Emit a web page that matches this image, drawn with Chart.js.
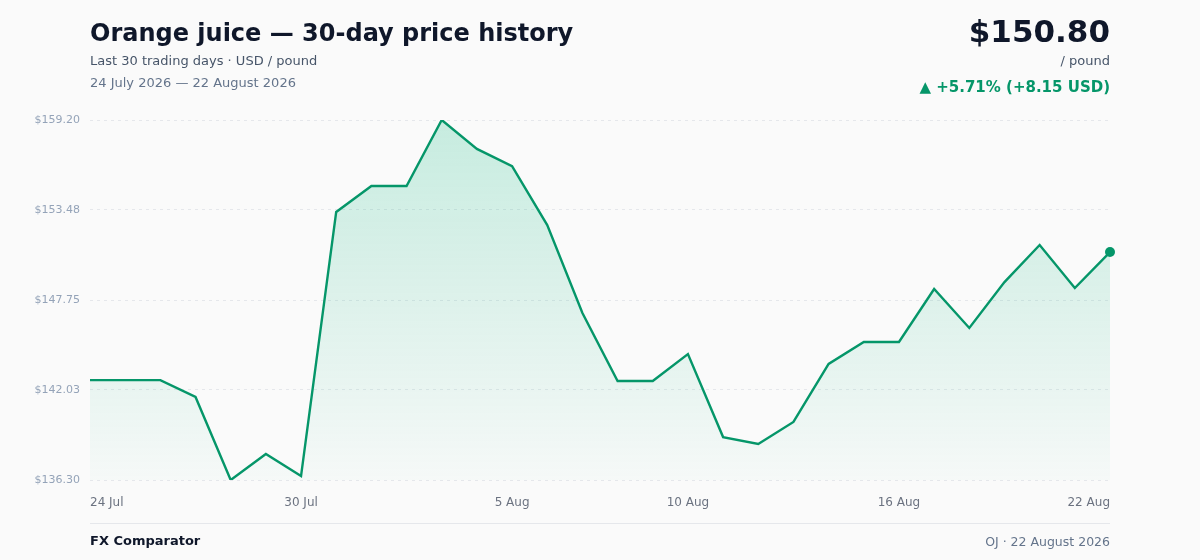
<!DOCTYPE html>
<html>
<head>
<meta charset="utf-8">
<script src="https://cdn.jsdelivr.net/npm/chart.js@4.4.1/dist/chart.umd.min.js"></script>
<style>
  html, body { margin: 0; padding: 0; background: #fafafa; }
  body { width: 1200px; height: 560px; position: relative; overflow: hidden;
         font-family: "DejaVu Sans", sans-serif; }
  .abs { position: absolute; white-space: nowrap; }
  #title { left: 90px; top: 19px; font-size: 24px; font-weight: bold; color: #0f172a; }
  #sub { left: 90px; top: 53px; font-size: 13px; color: #475569; }
  #range { left: 90px; top: 75px; font-size: 13px; color: #64748b; }
  #price { right: 90px; top: 13px; font-size: 31px; font-weight: bold; color: #0f172a; }
  #unit { right: 90px; top: 53px; font-size: 13px; color: #475569; }
  #chg { right: 90px; top: 78px; font-size: 15px; font-weight: bold; color: #059669; }
  #rule { left: 90px; width: 1020px; top: 523px; height: 1px; background: #e5e7eb; }
  #brand { left: 90px; top: 533px; font-size: 13px; font-weight: bold; color: #0f172a; }
  #src { right: 90px; top: 534px; font-size: 12.5px; color: #64748b; }
  #wrap { position: absolute; left: 0; top: 0; width: 1200px; height: 560px; }
</style>
</head>
<body>
<div id="wrap"><canvas id="chart"></canvas></div>
<div class="abs" id="title">Orange juice — 30-day price history</div>
<div class="abs" id="sub">Last 30 trading days · USD / pound</div>
<div class="abs" id="range">24 July 2026 — 22 August 2026</div>
<div class="abs" id="price">$150.80</div>
<div class="abs" id="unit">/ pound</div>
<div class="abs" id="chg">▲ +5.71% (+8.15 USD)</div>
<div class="abs" id="rule"></div>
<div class="abs" id="brand">FX Comparator</div>
<div class="abs" id="src">OJ · 22 August 2026</div>
<script>
const days = [
  '24 Jul', '25 Jul', '26 Jul', '27 Jul', '28 Jul', '29 Jul', '30 Jul', '31 Jul',
  '1 Aug', '2 Aug', '3 Aug', '4 Aug', '5 Aug', '6 Aug', '7 Aug', '8 Aug', '9 Aug',
  '10 Aug', '11 Aug', '12 Aug', '13 Aug', '14 Aug', '15 Aug', '16 Aug', '17 Aug',
  '18 Aug', '19 Aug', '20 Aug', '21 Aug', '22 Aug'
];
const prices = [
  142.65, 142.65, 142.65, 141.58, 136.30, 137.95, 136.55, 153.35, 155.00, 155.00,
  159.20, 157.36, 156.27, 152.52, 146.92, 142.60, 142.60, 144.31, 139.03, 138.59,
  139.99, 143.68, 145.08, 145.08, 148.45, 145.97, 148.89, 151.25, 148.51, 150.80
];
const shownTicks = ['24 Jul', '30 Jul', '5 Aug', '10 Aug', '16 Aug', '22 Aug'];
const yTicks = [136.30, 142.03, 147.75, 153.48, 159.20];

const green = '#059669';
const ctx = document.getElementById('chart');

new Chart(ctx, {
  type: 'line',
  data: {
    labels: days,
    datasets: [{
      data: prices,
      borderColor: green,
      borderWidth: 2.4,
      tension: 0,
      fill: 'start',
      backgroundColor: (c) => {
        const area = c.chart.chartArea;
        if (!area) return 'rgba(16,185,129,0.12)';
        const g = c.chart.ctx.createLinearGradient(0, area.top, 0, area.bottom);
        g.addColorStop(0, 'rgba(16,185,129,0.22)');
        g.addColorStop(1, 'rgba(16,185,129,0.02)');
        return g;
      },
      pointRadius: (c) => c.dataIndex === prices.length - 1 ? 5 : 0,
      pointBackgroundColor: green,
      pointBorderWidth: 0
    }]
  },
  options: {
    responsive: true,
    maintainAspectRatio: false,
    animation: false,
    layout: { padding: { top: 120, right: 90, bottom: 40, left: 0 } },
    plugins: { legend: { display: false }, tooltip: { enabled: false } },
    scales: {
      x: {
        grid: { display: false },
        border: { display: false },
        afterFit: (s) => { s.height = 40; },
        ticks: {
          autoSkip: false,
          maxRotation: 0,
          align: 'inner',
          color: '#6b7280',
          font: { family: 'DejaVu Sans', size: 12 },
          padding: 8,
          callback: function (v) {
            const l = this.getLabelForValue(v);
            return shownTicks.includes(l) ? l : null;
          }
        }
      },
      y: {
        min: 136.30,
        max: 159.20,
        border: { display: false, dash: [3, 4] },
        grid: { color: '#e5e7eb', drawTicks: false },
        afterFit: (s) => { s.width = 90; },
        afterBuildTicks: (s) => { s.ticks = yTicks.map(v => ({ value: v })); },
        ticks: {
          color: '#94a3b8',
          font: { family: 'DejaVu Sans', size: 11 },
          padding: 10,
          callback: (v) => '$' + v.toFixed(2)
        }
      }
    }
  }
});
</script>
</body>
</html>
